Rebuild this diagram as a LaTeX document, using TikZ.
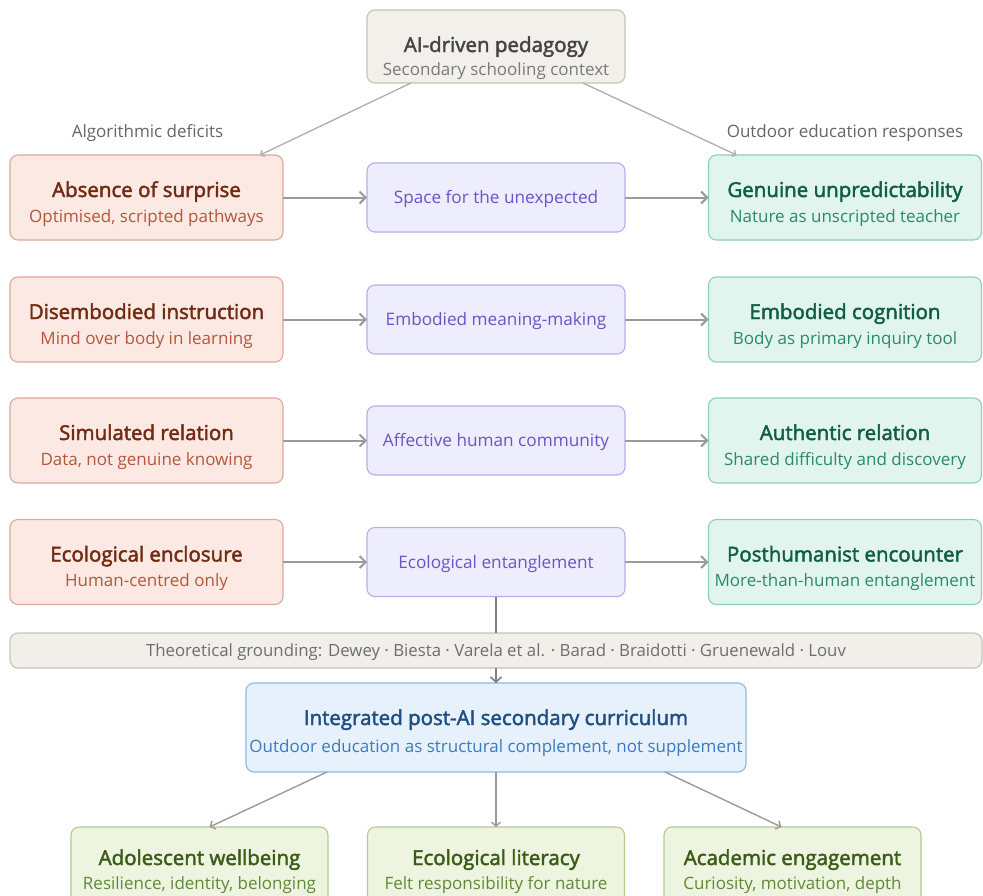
\documentclass[tikz,border=0pt]{standalone}
\usepackage{fontspec}
\setmainfont{Open Sans}
\newfontfamily\semib{Open Sans}[FakeBold=2.2]
\usetikzlibrary{arrows.meta,backgrounds,calc}
\definecolor{tFill}{HTML}{F2F0EB}\definecolor{tDraw}{HTML}{C9C3B8}
\definecolor{tTit}{HTML}{444444}\definecolor{tSub}{HTML}{7A7A7A}
\definecolor{lFill}{HTML}{FCE9E3}\definecolor{lDraw}{HTML}{DCA898}
\definecolor{lTit}{HTML}{712B13}\definecolor{lSub}{HTML}{B4573C}
\definecolor{mFill}{HTML}{EEEDFE}\definecolor{mDraw}{HTML}{B4AEEA}
\definecolor{mTxt}{HTML}{6656C6}
\definecolor{rFill}{HTML}{E1F5EE}\definecolor{rDraw}{HTML}{8ECFB7}
\definecolor{rTit}{HTML}{0F5E45}\definecolor{rSub}{HTML}{2A8A68}
\definecolor{gFill}{HTML}{F1EFEA}\definecolor{gDraw}{HTML}{C7C2B7}
\definecolor{gTxt}{HTML}{6E6E6E}
\definecolor{iFill}{HTML}{E6F1FB}\definecolor{iDraw}{HTML}{8FB9E0}
\definecolor{iTit}{HTML}{1F4F82}\definecolor{iSub}{HTML}{3A7BC0}
\definecolor{bFill}{HTML}{EDF4DF}\definecolor{bDraw}{HTML}{B3CC8C}
\definecolor{bTit}{HTML}{3B5C17}\definecolor{bSub}{HTML}{618A35}
\definecolor{arrC}{HTML}{9A9A9A}\definecolor{labC}{HTML}{666666}
\begin{document}
\begin{tikzpicture}[x=1pt,y=-1pt,
  base/.style={rounded corners=8pt, line width=1.1pt, inner sep=0pt, outer sep=0pt},
  tbox/.style={base, draw=tDraw, fill=tFill, minimum width=258pt, minimum height=73pt},
  lbox/.style={base, draw=lDraw, fill=lFill, minimum width=273pt, minimum height=85pt},
  mbox/.style={base, draw=mDraw, fill=mFill, minimum width=258pt, minimum height=69pt},
  rbox/.style={base, draw=rDraw, fill=rFill, minimum width=273pt, minimum height=85pt},
  gbox/.style={base, draw=gDraw, fill=gFill, minimum width=972pt, minimum height=35pt},
  ibox/.style={base, draw=iDraw, fill=iFill, minimum width=500pt, minimum height=89pt},
  bbox/.style={base, draw=bDraw, fill=bFill, minimum width=257pt, minimum height=90pt, anchor=north},
  txt/.style={inner sep=0pt, anchor=base},
  tit/.style={txt, font=\semib\fontsize{20.5}{24}\selectfont},
  sub/.style={txt, font=\fontsize{17}{20}\selectfont},
  mtx/.style={txt, font=\fontsize{17.2}{20}\selectfont, text=mTxt},
  lab/.style={txt, font=\fontsize{17}{20}\selectfont, text=labC},
  harrow/.style={draw=arrC, line width=2pt, -{Straight Barb[length=6pt,width=12pt]}},
  darrow/.style={draw=arrC!80, line width=1.3pt, -{Straight Barb[length=3pt,width=7pt]}},
  barrow/.style={draw=arrC, line width=1.4pt, -{Straight Barb[length=4pt,width=9pt]}}
]
\fill[white] (0,0) rectangle (983,895);
\useasboundingbox (0,0) rectangle (983,895);
\clip (0,0) rectangle (983,895);

% top
\node[tbox] (top) at (496,46.5) {};
\node[tit, text=tTit] (topT) at ([yshift=-42pt]top.north) {AI-driven pedagogy};
\node[sub, text=tSub] (topS) at ([yshift=-65pt]top.north) {Secondary schooling context};

\node[lab] (labL) at (147.5,137) {Algorithmic deficits};
\node[lab] (labR) at (845,137) {Outdoor education responses};

% rows
\foreach \i/\y/\lt/\ls/\m/\rt/\rs in {
 1/197.5/Absence of surprise/{Optimised, scripted pathways}/Space for the unexpected/Genuine unpredictability/Nature as unscripted teacher,
 2/319.5/Disembodied instruction/Mind over body in learning/Embodied meaning-making/Embodied cognition/Body as primary inquiry tool,
 3/440.5/Simulated relation/{Data, not genuine knowing}/Affective human community/Authentic relation/Shared difficulty and discovery,
 4/562/Ecological enclosure/Human-centred only/Ecological entanglement/Posthumanist encounter/More-than-human entanglement}{
  \node[lbox] (L\i) at (146.5,\y) {};
  \node[tit, text=lTit] (L\i t) at ([yshift=-42pt]L\i.north) {\lt};
  \node[sub, text=lSub] (L\i s) at ([yshift=-67pt]L\i.north) {\ls};
  \node[mbox] (M\i) at (496,\y) {};
  \node[mtx] (M\i t) at ([yshift=-6pt]M\i.center) {\m};
  \node[rbox] (R\i) at (845,\y) {};
  \node[tit, text=rTit] (R\i t) at ([yshift=-42pt]R\i.north) {\rt};
  \node[sub, text=rSub] (R\i s) at ([yshift=-67pt]R\i.north) {\rs};
  \draw[harrow] (L\i.east) -- (M\i.west);
  \draw[harrow] (M\i.east) -- (R\i.west);
}

\begin{scope}[on background layer]
  \draw[draw=black!15, line width=1pt] (M1.south) -- (M4.north);
\end{scope}

% theory bar
\node[gbox] (gr) at (496,650.5) {};
\node[txt, font=\fontsize{16.8}{20}\selectfont, text=gTxt] (grT) at ([yshift=-6pt]gr.center)
  {Theoretical grounding: Dewey · Biesta · Varela et al. · Barad · Braidotti · Gruenewald · Louv};
\draw[draw=black!50, line width=1.6pt] (M4.south) -- (gr.north);

% integrated
\node[ibox] (int) at (496,727.5) {};
\node[tit, text=iTit] (intT) at ([yshift=-42pt]int.north) {Integrated post-AI secondary curriculum};
\node[sub, text=iSub] (intS) at ([yshift=-69pt]int.north) {Outdoor education as structural complement, not supplement};
\draw[draw=black!50, line width=1.6pt, -{Straight Barb[length=5pt,width=11pt]}] (gr.south) -- (int.north);

% top diagonals
\draw[darrow] ([xshift=-85pt]top.south) -- ([xshift=-23pt]L1.north east);
\draw[darrow] ([xshift=87pt]top.south) -- ([xshift=28pt]R1.north west);

% bottom
\node[bbox] (B1) at (199.5,827) {};
\node[tit, text=bTit] (B1t) at ([yshift=-38pt]B1.north) {Adolescent wellbeing};
\node[sub, text=bSub] (B1s) at ([yshift=-62pt]B1.north) {Resilience, identity, belonging};
\node[bbox] (B2) at (496,827) {};
\node[tit, text=bTit] (B2t) at ([yshift=-38pt]B2.north) {Ecological literacy};
\node[sub, text=bSub] (B2s) at ([yshift=-62pt]B2.north) {Felt responsibility for nature};
\node[bbox] (B3) at (792.5,827) {};
\node[tit, text=bTit] (B3t) at ([yshift=-38pt]B3.north) {Academic engagement};
\node[sub, text=bSub] (B3s) at ([yshift=-62pt]B3.north) {Curiosity, motivation, depth};

\draw[barrow] ([xshift=-169pt]int.south) -- ([xshift=10pt]B1.north);
\draw[barrow] (int.south) -- (B2.north);
\draw[barrow] ([xshift=169pt]int.south) -- ([xshift=-11pt]B3.north);
\end{tikzpicture}
\end{document}
